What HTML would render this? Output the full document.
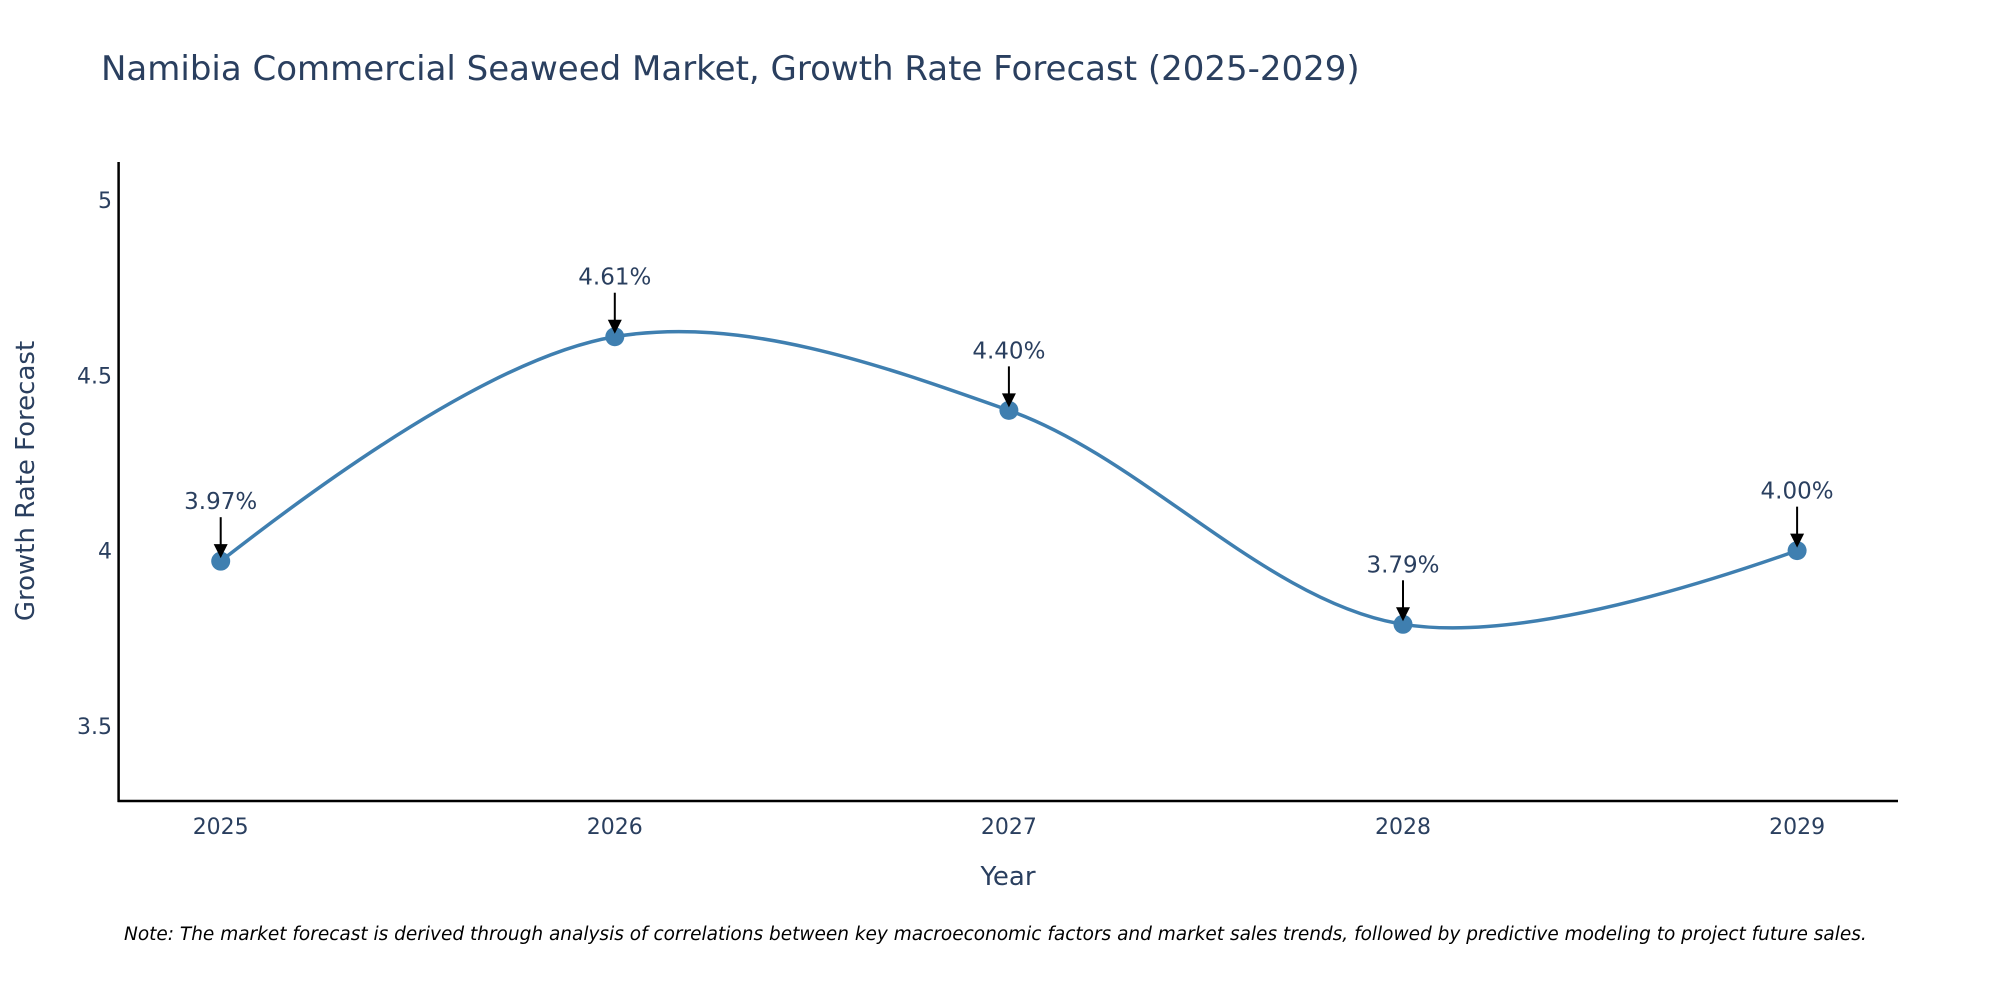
<!DOCTYPE html>
<html><head><meta charset="utf-8"><style>
body{margin:0;background:#fff;}
svg text{font-family:"DejaVu Sans","Liberation Sans",sans-serif;fill:#2a3f5f;}
</style></head><body>
<svg id="chart" width="2000" height="1000" viewBox="0 0 2000 1000" xmlns="http://www.w3.org/2000/svg">
<text x="101" y="80" font-size="34">Namibia Commercial Seaweed Market, Growth Rate Forecast (2025-2029)</text>
<g id="axes"></g>
<g id="series"></g>
<text x="1008" y="885" font-size="26" text-anchor="middle">Year</text>
<text transform="translate(34,481) rotate(-90)" font-size="26" text-anchor="middle">Growth Rate Forecast</text>
<text x="124" y="940" font-size="18.5" font-style="italic" style="fill:#000">Note: The market forecast is derived through analysis of correlations between key macroeconomic factors and market sales trends, followed by predictive modeling to project future sales.</text>
</svg>
<script>
const years=[2025,2026,2027,2028,2029];
const values=[3.97,4.61,4.40,3.79,4.00];
const labels=["3.97%","4.61%","4.40%","3.79%","4.00%"];
const yTicks=[3.5,4,4.5,5];
const yTickLabels=["3.5","4","4.5","5"];

const NS="http://www.w3.org/2000/svg";
const L=118.6,R=1898,T=162,B=801;
const xs=v=>220.7+(v-2025)*394.1;
const ys=v=>726-(v-3.5)*350.7;
function mk(tag,attrs,parent){const e=document.createElementNS(NS,tag);for(const k in attrs)e.setAttribute(k,attrs[k]);parent.appendChild(e);return e;}
const axes=document.getElementById('axes'),ser=document.getElementById('series');
let a=mk('line',{x1:L,y1:T,x2:L,y2:B+1,stroke:'#000','stroke-width':2.5},axes);


a=mk('line',{x1:L-1,y1:B,x2:R,y2:B,stroke:'#000','stroke-width':2.5},axes);


yTicks.forEach((t,i)=>{const e=mk('text',{x:112,y:ys(t)+8,'font-size':22,'text-anchor':'end'},axes);e.textContent=yTickLabels[i];

});
years.forEach(y=>{const e=mk('text',{x:xs(y),y:834,'font-size':22,'text-anchor':'middle'},axes);e.textContent=String(y);

});
const pts=years.map((y,i)=>[xs(y),ys(values[i])]);
function tang(p,c,n,s){const d1x=p[0]-c[0],d1y=p[1]-c[1],d2x=n[0]-c[0],d2y=n[1]-c[1];
const d1a=Math.pow(d1x*d1x+d1y*d1y,0.25),d2a=Math.pow(d2x*d2x+d2y*d2y,0.25);
const nx=(d2a*d2a*d1x-d1a*d1a*d2x)*s,ny=(d2a*d2a*d1y-d1a*d1a*d2y)*s;
const de1=3*d2a*(d1a+d2a),de2=3*d1a*(d1a+d2a);
return [[c[0]+nx/de1,c[1]+ny/de1],[c[0]-nx/de2,c[1]-ny/de2]];}
const tg=[];for(let i=1;i<pts.length-1;i++)tg.push(tang(pts[i-1],pts[i],pts[i+1],1));
const P=p=>p[0].toFixed(2)+','+p[1].toFixed(2);
let d='M'+P(pts[0])+'Q'+P(tg[0][0])+' '+P(pts[1]);
for(let i=2;i<pts.length-1;i++)d+='C'+P(tg[i-2][1])+' '+P(tg[i-1][0])+' '+P(pts[i]);
d+='Q'+P(tg[pts.length-3][1])+' '+P(pts[pts.length-1]);
const line=mk('path',{d:d,fill:'none',stroke:'#3f7fb0','stroke-width':3.5},ser);


pts.forEach((p,i)=>{
const c=mk('circle',{cx:p[0],cy:p[1],r:9.5,fill:'#3f7fb0'},ser);


const ar=mk('line',{x1:p[0],y1:p[1]-44,x2:p[0],y2:p[1]-16,stroke:'#000','stroke-width':2},ser);


const hd=mk('polygon',{points:(p[0]-7)+','+(p[1]-17)+' '+(p[0]+7)+','+(p[1]-17)+' '+p[0]+','+(p[1]-3),fill:'#000'},ser);


const t=mk('text',{x:p[0],y:p[1]-52,'font-size':23,'text-anchor':'middle'},ser);t.textContent=labels[i];


});
</script>
</body></html>
